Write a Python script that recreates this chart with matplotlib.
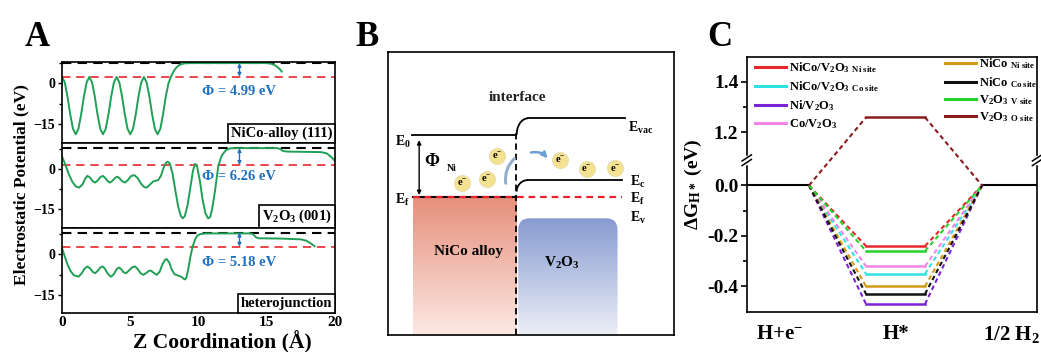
import numpy as np
import matplotlib
matplotlib.use('Agg')
import matplotlib.pyplot as plt
from matplotlib.offsetbox import AnchoredText
from matplotlib.patches import Arc, FancyBboxPatch, FancyArrowPatch
from matplotlib.colors import LinearSegmentedColormap
from matplotlib.lines import Line2D

plt.rcParams['font.family'] = 'serif'
plt.rcParams['font.serif'] = ['Liberation Serif', 'DejaVu Serif']
plt.rcParams['font.weight'] = 'bold'
plt.rcParams['axes.labelweight'] = 'bold'
plt.rcParams['mathtext.fontset'] = 'custom'
plt.rcParams['mathtext.rm'] = 'Liberation Serif:bold'
plt.rcParams['mathtext.it'] = 'Liberation Serif:italic:bold'
plt.rcParams['mathtext.bf'] = 'Liberation Serif:bold'
plt.rcParams['axes.linewidth'] = 1.2

# ---------------- panel A data: planar-averaged electrostatic potential ----------------
z_alloy = [0.0, 0.2, 0.4, 0.6, 0.8, 1.0, 1.2, 1.4, 1.6, 1.8,
           2.0, 2.2, 2.4, 2.6, 2.8, 3.0, 3.2, 3.4, 3.6, 3.8,
           4.0, 4.2, 4.4, 4.6, 4.8, 5.0, 5.2, 5.4, 5.6, 5.8,
           6.0, 6.2, 6.4, 6.6, 6.8, 7.0, 7.2, 7.4, 7.6, 7.8,
           8.0, 8.2, 8.4, 8.6, 8.8, 9.0, 9.4, 15.0, 15.3, 15.6, 15.8, 16.0, 16.1]
v_alloy = [2.3, 0.3, -4.9, -11.4, -16.7, -18.7, -16.7, -11.4, -4.9, 0.3,
           2.3, 0.3, -4.9, -11.4, -16.7, -18.7, -16.7, -11.4, -4.9, 0.3,
           2.3, 0.3, -4.9, -11.4, -16.7, -18.7, -16.7, -11.4, -4.9, 0.3,
           2.3, 0.3, -4.9, -11.4, -16.7, -18.7, -16.7, -11.4, -4.9, 0.0,
           2.6, 4.6, 5.9, 6.7, 7.1, 7.3, 7.4, 7.4, 7.2, 6.6, 5.9, 4.9, 4.3]

z_oxide = [0.0, 0.25, 0.5, 0.75, 1.0, 1.25, 1.5, 1.7, 1.86, 2.05,
           2.25, 2.42, 2.6, 2.8, 2.98, 3.15, 3.35, 3.52, 3.7, 3.9,
           4.05, 4.2, 4.4, 4.6, 4.8, 5.05, 5.3, 5.55, 5.8, 6.0,
           6.2, 6.45, 6.7, 7.05, 7.25, 7.45, 7.6, 7.75, 7.9, 8.1,
           8.3, 8.5, 8.7, 8.85, 9.0, 9.2, 9.4, 9.6, 9.75, 9.9,
           10.1, 10.3, 10.5, 10.7, 10.85, 11.0, 11.2, 11.45, 11.7, 12.0,
           12.3, 12.8, 15.8, 16.0, 16.2, 16.5, 19.0, 19.4, 19.7, 20.0]
v_oxide = [4.6, 1.5, -2.0, -4.8, -6.5, -7.0, -5.8, -3.6, -2.6, -3.2,
           -4.6, -5.1, -4.4, -3.1, -2.6, -3.3, -4.6, -5.1, -4.4, -3.3,
           -2.9, -3.4, -4.6, -5.1, -4.3, -2.7, -2.3, -3.5, -5.6, -6.7,
           -7.0, -5.8, -4.6, -4.2, -2.5, 0.5, 2.2, 2.7, 2.0, -1.8,
           -8.0, -13.8, -17.6, -18.5, -17.6, -13.5, -7.0, -0.5, 1.9, 0.8,
           -4.5, -11.5, -16.5, -18.5, -18.0, -15.0, -8.5, 1.2, 5.0, 7.0,
           7.7, 7.8, 7.8, 7.4, 6.7, 6.5, 6.3, 5.8, 4.6, 3.0]

z_hetero = [0.0, 0.2, 0.4, 0.6, 0.85, 1.2, 1.45, 1.65, 1.86, 2.05,
            2.25, 2.42, 2.6, 2.8, 2.98, 3.15, 3.35, 3.59, 3.8, 4.0,
            4.18, 4.35, 4.5, 4.69, 4.9, 5.15, 5.35, 5.55, 5.75, 5.96,
            6.15, 6.35, 6.5, 6.7, 6.94, 7.15, 7.35, 7.55, 7.67, 7.85,
            8.05, 8.25, 8.4, 8.6, 8.77, 8.9, 9.0, 9.1, 9.25, 9.4,
            9.57, 9.75, 9.9, 10.1, 10.5, 13.8, 14.0, 14.2, 14.4, 16.0,
            17.5, 17.9, 18.2, 18.5]
v_hetero = [2.2, -0.8, -3.8, -6.0, -7.7, -8.3, -7.0, -5.3, -4.5, -5.2,
            -6.5, -7.0, -6.2, -4.9, -4.5, -5.4, -7.2, -8.3, -7.3, -5.5,
            -4.9, -5.6, -6.6, -7.0, -6.0, -4.8, -4.5, -5.5, -7.0, -7.6,
            -7.0, -6.2, -6.0, -6.8, -7.6, -6.5, -3.8, -2.0, -1.8, -3.0,
            -5.8, -7.4, -7.7, -8.0, -8.4, -9.0, -9.3, -8.8, -5.5, -1.0,
            2.8, 5.5, 6.8, 7.4, 7.7, 7.7, 7.4, 6.3, 5.9, 5.8,
            5.5, 5.0, 4.1, 3.0]

slab_names = ['NiCo-alloy (111)', 'V$_2$O$_3$ (001)', 'heterojunction']
vac_levels = [7.4, 7.76, 8.0]
fermi_levels = [2.41, 1.50, 2.82]
work_functions = [4.99, 6.26, 5.18]
ylims_A = [(-22.0, 7.9), (-22.0, 9.6), (-21.8, 9.8)]

# ---------------- panel C data: hydrogen adsorption free energy ----------------
steps = ['H+e$^{-}$', 'H*', '1/2 H$_2$']
site_labels = ['NiCo/V$_2$O$_3$ $_{\\rm Ni\\ site}$', 'NiCo/V$_2$O$_3$ $_{\\rm Co\\ site}$',
               'Ni/V$_2$O$_3$', 'Co/V$_2$O$_3$',
               'NiCo $_{\\rm Ni\\ site}$', 'NiCo $_{\\rm Co\\ site}$',
               'V$_2$O$_3$ $_{\\rm V\\ site}$', 'V$_2$O$_3$ $_{\\rm O\\ site}$']
dG_H = [-0.24, -0.35, -0.47, -0.32, -0.40, -0.43, -0.26, 1.26]
site_colors = ['#E8262B', '#2EE3E3', '#7A22D6', '#F285EC',
               '#D39A17', '#111111', '#27D12B', '#8A1C1C']

fig = plt.figure(figsize=(10.41, 3.52), dpi=100)

# ================= panel A =================
green = '#1FA055'
blue = '#1D6FC2'
curves = [(z_alloy, v_alloy), (z_oxide, v_oxide), (z_hetero, v_hetero)]
posA = [(0.0596, 0.5929, 0.2622, 0.2318),
        (0.0596, 0.3531, 0.2622, 0.2398),
        (0.0596, 0.1099, 0.2622, 0.2432)]
for i in range(3):
    ax = fig.add_axes(posA[i])
    z, v = curves[i]
    ax.axhline(vac_levels[i], color='black', lw=1.5, dashes=(4.5, 3), zorder=1)
    ax.axhline(fermi_levels[i], color='#E8262B', lw=1.2, dashes=(5, 3.5), zorder=1)
    ax.plot(z, v, color=green, lw=1.4, zorder=2)
    ax.annotate('', xy=(13, vac_levels[i]), xytext=(13, fermi_levels[i]),
                arrowprops=dict(arrowstyle='<|-|>', color=blue, lw=1,
                                mutation_scale=5, shrinkA=0, shrinkB=0))
    ax.text(13, -3.0, 'Φ = %.2f eV' % work_functions[i], color=blue,
            ha='center', va='center', fontsize=10.5)
    at = AnchoredText(slab_names[i], loc='lower right', pad=0.2, borderpad=0,
                      prop=dict(size=10.5, weight='bold'), frameon=True)
    at.patch.set_boxstyle('square,pad=0')
    at.patch.set_linewidth(1.2)
    ax.add_artist(at)
    ax.set_xlim(0, 20)
    ax.set_ylim(*ylims_A[i])
    ax.set_yticks([0, -15])
    ax.set_yticks([7.5, -7.5], minor=True)
    ax.tick_params(axis='y', which='major', direction='out', length=3, width=1, labelsize=10, pad=2)
    ax.tick_params(axis='y', which='minor', direction='out', length=2, width=1)
    ax.set_xticks([0, 5, 10, 15, 20])
    if i < 2:
        ax.tick_params(axis='x', length=0, labelbottom=False)
    else:
        ax.tick_params(axis='x', direction='out', length=0, labelsize=11, pad=2)

fig.text(21.5 / 1041, 1 - 185 / 352, 'Electrostatic Potential (eV)', rotation=90,
         ha='center', va='center', fontsize=12.5)
fig.text(222 / 1041, 1 - 342.5 / 352, 'Z Coordination (Å)', ha='center', va='center', fontsize=15.5)
fig.text(25 / 1041, 1 - 46 / 352, 'A', fontsize=25, va='baseline')

# ================= panel B (band diagram) =================
axB = fig.add_axes([0.3724, 0.0483, 0.2750, 0.8048])
grad = np.linspace(0, 1, 256).reshape(-1, 1)
red_cmap = LinearSegmentedColormap.from_list('nico', ['#FCE9E4', '#E68F7B'])
blue_cmap = LinearSegmentedColormap.from_list('vo', ['#ECEFF7', '#889BD1'])
axB.imshow(grad, cmap=red_cmap, extent=(8.8, 45.0, 0, 48.8), origin='lower',
           aspect='auto', zorder=1)
im = axB.imshow(grad, cmap=blue_cmap, extent=(45.6, 80.3, 0, 41.2), origin='lower',
                aspect='auto', zorder=1)
clip = FancyBboxPatch((45.6, -10), 34.7, 51.2, boxstyle='round,pad=0,rounding_size=4',
                      fc='none', ec='none', transform=axB.transData)
axB.add_patch(clip)
im.set_clip_path(clip)

axB.plot([8.4, 45.0], [70.6, 70.6], color='black', lw=1.3, zorder=3)
axB.add_patch(Arc((49.0, 70.6), 7.9, 11.8, theta1=90, theta2=180, color='black', lw=1.3, zorder=3))
axB.plot([49.0, 82.9], [76.5, 76.5], color='black', lw=1.3, zorder=3)
axB.add_patch(Arc((49.0, 50.6), 7.9, 8.2, theta1=90, theta2=180, color='black', lw=1.3, zorder=3))
axB.plot([49.0, 81.7], [54.7, 54.7], color='black', lw=1.3, zorder=3)
axB.plot([8.8, 45.0], [48.8, 48.8], color='black', lw=1.5, zorder=3)
axB.plot([8.8, 81.8], [48.8, 48.8], color='#E8212A', lw=1.6, dashes=(3, 2.2), zorder=4)
axB.plot([45.0, 45.0], [0, 71.5], color='black', lw=1.3, dashes=(3.5, 2.2), zorder=4)
axB.annotate('', xy=(11.0, 49.4), xytext=(11.0, 68.8),
             arrowprops=dict(arrowstyle='<|-|>', color='black', lw=1,
                             mutation_scale=6, shrinkA=0, shrinkB=0))

electron_x = [26.1, 34.6, 38.3, 60.2, 69.5, 79.4]
electron_y = [53.8, 55.1, 63.2, 61.8, 58.6, 58.8]
axB.scatter(electron_x, electron_y, s=130, color='#F4E291', edgecolor='#EADDA8',
            linewidth=0.8, zorder=5)
for ex, ey in zip(electron_x, electron_y):
    axB.text(ex, ey, 'e$^{-}$', ha='center', va='center', fontsize=7.5, zorder=6)

axB.add_patch(FancyArrowPatch((41.4, 52.6), (45.0, 62.9), connectionstyle='arc3,rad=-0.3',
                              arrowstyle='-', lw=2.2, color='#93AECB', zorder=5))
axB.add_patch(FancyArrowPatch((49.1, 64.2), (56.5, 61.6), connectionstyle='arc3,rad=-0.35',
                              arrowstyle='-|>', mutation_scale=8, lw=1.8, color='#6D9FD6', zorder=5))

axB.text(45.5, 83.7, 'interface', ha='center', va='center', fontsize=11, color='#222222')
axB.text(2.5, 68.2, 'E$_0$', ha='left', va='center', fontsize=10)
axB.text(2.5, 47.7, 'E$_{\\rm f}$', ha='left', va='center', fontsize=10)
axB.text(84.0, 73.1, 'E$_{\\rm vac}$', ha='left', va='center', fontsize=10)
axB.text(84.7, 54.1, 'E$_{\\rm c}$', ha='left', va='center', fontsize=10)
axB.text(84.7, 48.0, 'E$_{\\rm f}$', ha='left', va='center', fontsize=10)
axB.text(84.7, 41.2, 'E$_{\\rm v}$', ha='left', va='center', fontsize=10)
axB.text(15.4, 61.1, 'Φ', ha='center', va='center', fontsize=13)
axB.text(20.5, 58.8, 'Ni', ha='left', va='center', fontsize=7)
axB.text(28.2, 29.4, 'NiCo alloy', ha='center', va='center', fontsize=11)
axB.text(60.8, 25.3, 'V$_2$O$_3$', ha='center', va='center', fontsize=11)
axB.set_xlim(0, 100)
axB.set_ylim(0, 100)
axB.set_xticks([])
axB.set_yticks([])
fig.text(355 / 1041, 1 - 46 / 352, 'B', fontsize=25, va='baseline')

# ================= panel C (free energy diagram, broken y axis) =================
def fwd(y):
    y = np.asarray(y, dtype=float)
    return np.where(y <= 0.1, y, np.where(y >= 1.09, y - 0.99, 0.1))

def inv(u):
    u = np.asarray(u, dtype=float)
    return np.where(u <= 0.1, u, u + 0.99)

axC = fig.add_axes([0.7173, 0.1145, 0.2789, 0.7244])
axC.set_yscale('function', functions=(fwd, inv))
hw = 0.254
axC.plot([-0.5, hw], [0, 0], color='black', lw=1.5)
axC.plot([2 - hw, 2.5], [0, 0], color='black', lw=1.5)
handles = []
for g, c in zip(dG_H, site_colors):
    axC.plot([hw, 1 - hw], [0, g], color=c, lw=1.5, dashes=(2.2, 1.6))
    axC.plot([1 + hw, 2 - hw], [g, 0], color=c, lw=1.5, dashes=(2.2, 1.6))
    axC.plot([1 - hw, 1 + hw], [g, g], color=c, lw=1.8)
    handles.append(Line2D([], [], color=c, lw=2.2))

axC.set_xlim(-0.283, 2.22)
axC.set_ylim(-0.5, 1.5)
axC.set_xticks([0, 1, 2], labels=steps)
axC.tick_params(axis='x', length=0, labelsize=15, pad=9)
axC.set_yticks([-0.4, -0.2, 0.0, 1.2, 1.4], labels=['-0.4', '-0.2', '0.0', '1.2', '1.4'])
axC.set_yticks([-0.3, -0.1, 1.3], minor=True)
axC.tick_params(axis='y', which='major', direction='out', length=4, width=1.2, labelsize=14, pad=2)
axC.tick_params(axis='y', which='minor', direction='out', length=3, width=1.2)
axC.set_ylabel('ΔG$_{\\rm H*}$ (eV)', fontsize=14, labelpad=2)

# break marks on both spines
yb = 0.594
for xs in (0.0, 1.0):
    axC.plot([xs, xs], [yb - 0.012, yb + 0.012], transform=axC.transAxes, color='white',
             lw=2.5, clip_on=False, zorder=10)
    for off in (-0.009, 0.009):
        axC.plot([xs - 0.016, xs + 0.016], [yb + off - 0.012, yb + off + 0.012],
                 transform=axC.transAxes, color='black', lw=1.1, clip_on=False, zorder=11)

leg1 = axC.legend(handles[:4], site_labels[:4], loc='upper left', bbox_to_anchor=(0.02, 0.995),
                  frameon=False, fontsize=9, handlelength=2.5, handletextpad=0.2,
                  labelspacing=0.32, borderaxespad=0, borderpad=0.2)
axC.add_artist(leg1)
axC.legend(handles[4:], site_labels[4:], loc='upper left', bbox_to_anchor=(0.675, 1.01),
           frameon=False, fontsize=9, handlelength=2.5, handletextpad=0.2,
           labelspacing=0.28, borderaxespad=0, borderpad=0.2)
fig.text(707 / 1041, 1 - 46 / 352, 'C', fontsize=25, va='baseline')

fig.savefig('out.png', dpi=100)
